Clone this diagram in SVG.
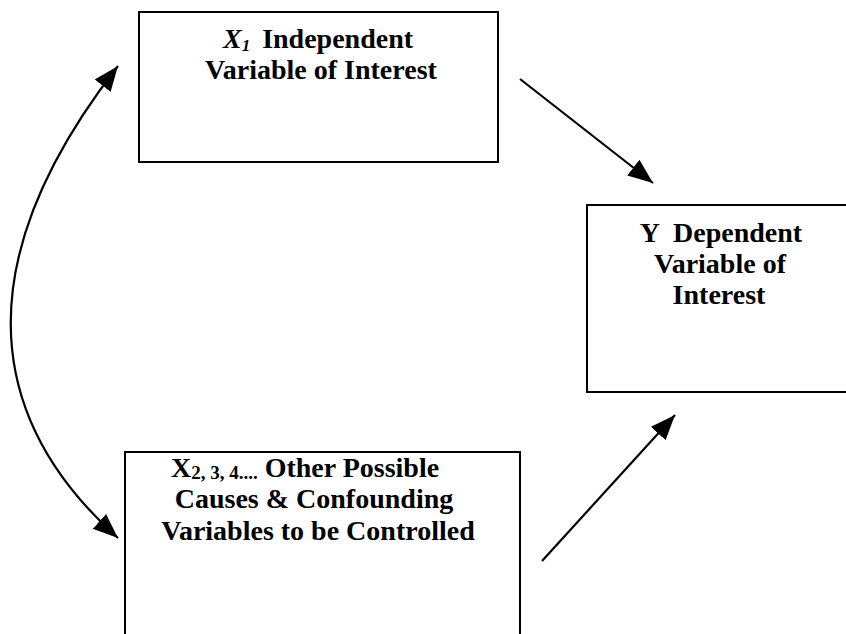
<svg xmlns="http://www.w3.org/2000/svg" width="846" height="634" viewBox="0 0 846 634">
<style>
.box{fill:#fff;stroke:#000;stroke-width:2}
.t{font-family:"Liberation Serif","Times New Roman",serif;font-weight:bold;font-size:28px;fill:#000;text-anchor:middle}
.c{fill:none;stroke:#000;stroke-width:2.2}
</style>
<defs>
<marker id="ah" markerUnits="userSpaceOnUse" markerWidth="28" markerHeight="22" refX="25" refY="10" orient="auto-start-reverse" viewBox="0 0 28 20">
<path d="M0,0 L25,10 L0,20 Z" fill="#000"/>
</marker>
</defs>
<rect width="846" height="634" fill="#fff"/>
<g id="x1">
<rect class="box" x="139" y="12" width="359" height="150"/>
<text class="t" x="318" y="48"><tspan font-style="italic">X</tspan><tspan font-style="italic" font-size="17" dy="3">1</tspan><tspan dy="-3" dx="12">Independent</tspan></text>
<text class="t" x="321" y="79">Variable of Interest</text>
</g>
<g id="y">
<rect class="box" x="587" y="205" width="270" height="187"/>
<text class="t" x="721" y="242">Y <tspan dx="7">Dependent</tspan></text>
<text class="t" x="720" y="273">Variable of</text>
<text class="t" x="719" y="304">Interest</text>
</g>
<g id="x234">
<rect class="box" x="125" y="452" width="395" height="200"/>
<text class="t" x="305" y="477">X<tspan font-size="19" dy="2">2, 3, 4....</tspan><tspan dy="-2"> Other Possible</tspan></text>
<text class="t" x="314" y="508">Causes &amp; Confounding</text>
<text class="t" x="318" y="540">Variables to be Controlled</text>
</g>
<g id="connectors">
<path class="c" d="M520,79 L653,183" marker-end="url(#ah)"/>
<path class="c" d="M542,561 L675,415" marker-end="url(#ah)"/>
<path class="c" d="M118,66 C-25,250 -25,410 118,538" marker-start="url(#ah)" marker-end="url(#ah)"/>
</g>
</svg>
